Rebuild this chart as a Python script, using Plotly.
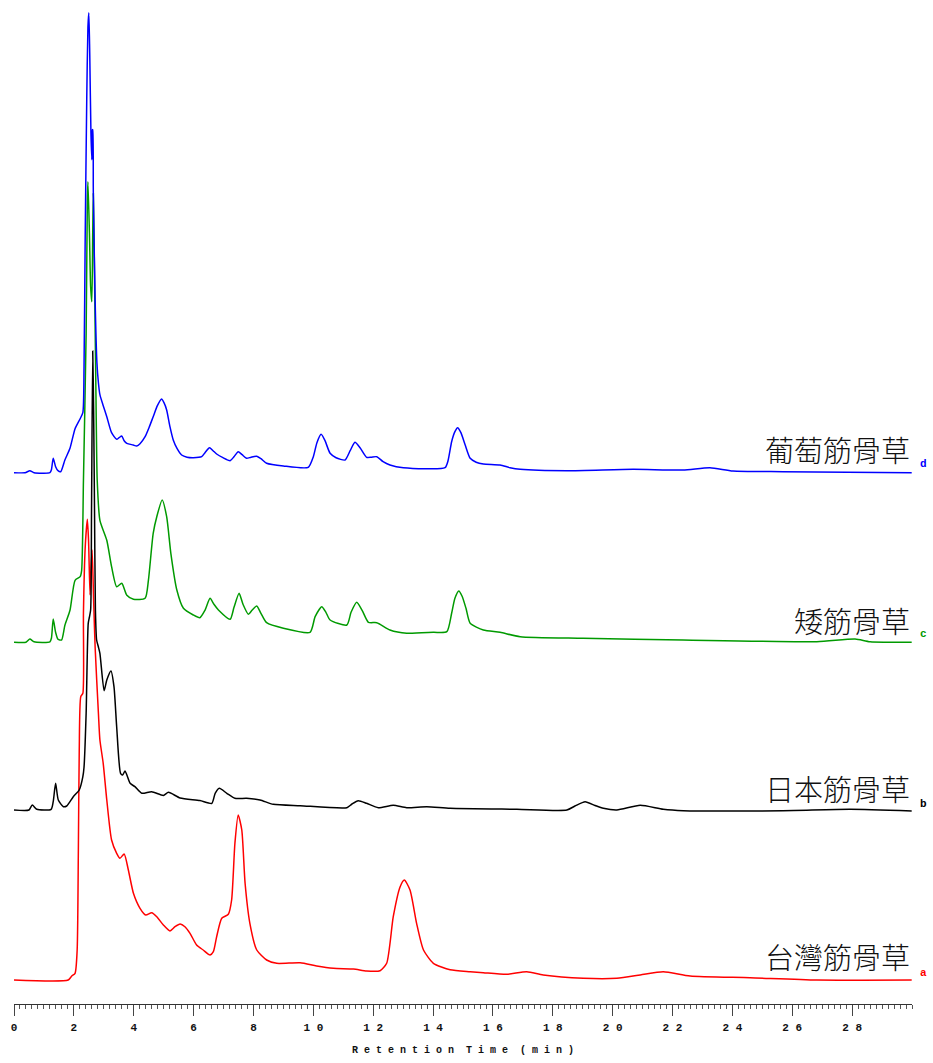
import plotly.graph_objects as go

# Retention time (min) and detector response for each sample
time_d = [0.0, 0.37, 0.53, 0.67, 1.20, 1.25, 1.31, 1.39, 1.47, 1.56, 1.70, 1.87, 2.04, 2.21, 2.30, 2.34,
          2.38, 2.43, 2.47, 2.50, 2.53, 2.57, 2.60, 2.62, 2.63, 2.65, 2.71, 2.77, 2.82, 2.87, 2.97, 3.10,
          3.26, 3.43, 3.51, 3.60, 3.68, 3.77, 3.98, 4.10, 4.21, 4.38, 4.51, 4.65, 4.79, 4.93, 5.01, 5.10,
          5.21, 5.32, 5.45, 5.60, 5.78, 5.99, 6.27, 6.38, 6.53, 6.65, 6.77, 6.98, 7.22, 7.35, 7.49, 7.62,
          7.77, 7.92, 8.11, 8.25, 8.44, 9.00, 9.83, 10.00, 10.12, 10.26, 10.39, 10.56, 10.76, 11.06, 11.23,
          11.39, 11.56, 11.78, 11.93, 12.12, 12.33, 12.56, 13.01, 14.40, 14.50, 14.62, 14.73, 14.82, 14.93,
          15.07, 15.24, 15.44, 15.68, 16.24, 16.57, 16.91, 18.47, 20.68, 22.35, 23.25, 24.02, 25.69, 29.99]
signal_d = [0, 0, 2, 0, 0, 3, 14.4, 6, 2, 1, 12.7, 24.4, 44, 54, 60, 106,
            240, 373, 446, 460, 420, 340, 313, 343, 343, 280, 173, 110, 90, 78, 68, 56,
            40, 33.4, 35, 36.7, 32, 29.4, 27.7, 26.7, 29, 36, 45, 56, 67, 73.7, 70, 62.7,
            46, 32.7, 24, 17.7, 15.5, 15, 16, 20, 25, 22, 18.7, 15, 12, 16, 21, 18,
            14.4, 15.5, 16.4, 14, 9.4, 6.7, 5.4, 16, 30, 38.4, 32, 19.4, 15, 12.7, 22,
            30.4, 25, 15.4, 15.5, 16, 11, 7.7, 5, 5, 12, 31, 41, 45, 40,
            28, 14.4, 10.5, 8.7, 7.7, 5, 3.4, 2, 3.4, 2.7, 5, 1.7, 1, 0]

time_c = [0.0, 0.40, 0.53, 0.67, 1.20, 1.25, 1.31, 1.39, 1.47, 1.59, 1.70, 1.87, 2.04, 2.21, 2.26, 2.32,
          2.41, 2.45, 2.47, 2.52, 2.56, 2.60, 2.63, 2.65, 2.70, 2.74, 2.78, 2.87, 3.10, 3.26, 3.43, 3.60,
          3.77, 3.99, 4.38, 4.49, 4.65, 4.77, 4.95, 5.10, 5.24, 5.44, 5.66, 5.99, 6.21, 6.38, 6.55, 6.68,
          6.83, 7.22, 7.35, 7.52, 7.65, 7.83, 7.95, 8.11, 8.25, 8.44, 9.00, 9.89, 10.06, 10.28, 10.42,
          10.56, 11.12, 11.26, 11.45, 11.63, 11.84, 12.12, 12.56, 13.12, 14.01, 14.46, 14.62, 14.73, 14.86,
          14.97, 15.10, 15.24, 15.68, 16.24, 16.91, 19.01, 22.35, 26.82, 28.10, 28.60, 29.99]
signal_c = [0, 0, 3.3, 0.5, 0.5, 4, 23.3, 10, 3, 2.3, 17, 32, 62, 65.6, 72, 162,
            309, 442, 460.6, 409, 355.6, 340.6, 409, 449, 342, 242, 162, 122, 102, 75.6, 55.6, 59,
            47, 43, 44, 62, 109, 125.6, 142.3, 125.6, 89, 52.3, 34, 27.3, 24.6, 32, 44, 38,
            32.3, 23, 35, 49, 38, 28, 32, 36.3, 29, 19.6, 14, 10, 25.6, 35.6, 30,
            22.3, 17.3, 30, 40, 32, 20, 19.6, 12.3, 9, 10, 10.6, 29, 44, 51.3,
            46, 34, 19, 12.3, 10, 5.6, 4, 2.3, 0.6, 3.3, 0.6, 0]

time_b = [0.0, 0.50, 0.61, 0.76, 1.24, 1.31, 1.39, 1.48, 1.65, 1.76, 1.98, 2.18, 2.30, 2.34, 2.41, 2.48,
          2.52, 2.56, 2.59, 2.63, 2.66, 2.69, 2.72, 2.76, 2.82, 2.87, 3.01, 3.10, 3.24, 3.34, 3.43, 3.56,
          3.63, 3.71, 3.88, 4.04, 4.27, 4.60, 4.99, 5.16, 5.55, 6.21, 6.61, 6.72, 6.86, 7.11, 7.38, 7.77,
          8.22, 8.66, 9.56, 11.12, 11.29, 11.50, 11.78, 12.17, 12.67, 13.12, 13.79, 14.57, 16.80, 18.47,
          18.74, 19.08, 19.41, 19.69, 20.14, 20.92, 21.69, 22.36, 25.69, 27.93, 29.99]
signal_b = [0, 0, 5, 0.7, 0.7, 8.3, 26.7, 10, 3.3, 4, 13.3, 20, 33.3, 43, 96.7, 186.7,
            193, 200, 300, 459, 400, 300, 200, 170, 163, 156.7, 119.3, 130, 139, 123.3, 83.3, 36.7,
            35, 39, 26.7, 23.3, 16.7, 18.3, 14.5, 17.7, 12, 9.5, 6.7, 16.7, 21.7, 16.7, 11.7, 11.7,
            10, 5.7, 4.3, 2.3, 6, 9.3, 6.7, 2.3, 4.7, 2.3, 3.3, 1.7, 0.7, 0,
            4, 8.3, 4.5, 1.7, 0, 4.7, 0.7, -0.7, -0.7, 0.7, -1]

time_a = [0.0, 1.81, 1.93, 2.04, 2.11, 2.15, 2.18, 2.23, 2.30, 2.32, 2.38, 2.45, 2.49, 2.54, 2.57, 2.61,
          2.66, 2.71, 2.82, 2.87, 2.98, 3.10, 3.26, 3.43, 3.54, 3.68, 3.82, 3.99, 4.21, 4.40, 4.60, 4.77,
          4.99, 5.21, 5.38, 5.55, 5.71, 5.88, 6.10, 6.32, 6.55, 6.66, 6.77, 6.94, 7.16, 7.27, 7.38, 7.49,
          7.61, 7.72, 7.88, 8.11, 8.44, 8.78, 9.56, 10.11, 10.67, 11.34, 11.78, 12.23, 12.45, 12.67, 12.90,
          13.04, 13.23, 13.45, 13.68, 14.01, 14.57, 15.24, 15.68, 16.46, 17.13, 17.68, 19.02, 20.14, 20.92,
          21.69, 22.59, 24.59, 26.82, 29.99]
signal_a = [0, 0, 4, 6.7, 30, 130, 230, 283.3, 286.7, 366.7, 433.3, 460.7, 440, 385, 410, 430,
            380, 333, 266.7, 240, 216.7, 180, 140, 126.7, 121.7, 126, 110, 86.7, 71.7, 65, 67.3, 63.3,
            55, 49, 53.3, 56, 53.3, 46.7, 35, 30, 25, 28.3, 43.3, 61.7, 65.7, 80, 136.7, 165,
            150, 96.7, 56.7, 30, 20, 16.7, 17.3, 14, 11.7, 11, 9, 9.3, 16.7, 63.3, 93.3,
            100, 90, 56.7, 30, 16.7, 10.3, 8.3, 7.3, 5.7, 8.3, 5, 1.7, 1.7, 5,
            8.3, 4, 2.3, 0, 0]

sample_names = ["台灣筋骨草", "日本筋骨草", "矮筋骨草", "葡萄筋骨草"]
sample_tags = ["a", "b", "c", "d"]
tick_values = list(range(0, 30, 2))

# Stacking of the chromatograms
traces = [(time_a, signal_a), (time_b, signal_b), (time_c, signal_c), (time_d, signal_d)]
offsets = [24, 194, 361.7, 531.3]
colors = ["#ff0000", "#000000", "#009a00", "#0000ff"]
name_dy = [24, 22, 22, 24]
tag_dy = [7, 6, 8, 9]

fig = go.Figure()
annotations = []
for (t, s), off, col, name, tag, ndy, tdy in zip(traces, offsets, colors, sample_names,
                                                 sample_tags, name_dy, tag_dy):
    fig.add_trace(go.Scatter(
        x=t, y=[v + off for v in s], mode="lines",
        line=dict(color=col, width=1.5, shape="spline", smoothing=0.6),
        name=name, showlegend=False,
    ))
    annotations.append(dict(
        x=30.0, y=off + ndy, xref="x", yref="y", text=name, showarrow=False,
        xanchor="right", yanchor="middle",
        font=dict(family="Noto Sans CJK TC", size=29, color="#111111", weight=300),
    ))
    annotations.append(dict(
        x=30.0, xshift=11, y=off + tdy, xref="x", yref="y", text=tag, showarrow=False,
        xanchor="center", yanchor="middle",
        font=dict(family="Liberation Mono", size=11, color=col, weight="bold"),
    ))

fig.update_layout(
    width=933, height=1063,
    margin=dict(l=14, r=21, t=0, b=59),
    paper_bgcolor="white", plot_bgcolor="white",
    annotations=annotations,
)

spaced = lambda s: "\u00a0".join(s)
fig.update_xaxes(
    range=[0, 30], showgrid=False, zeroline=False,
    showline=True, linecolor="#333333", linewidth=1,
    ticks="outside", ticklen=11, tickwidth=1, tickcolor="#444444",
    tickvals=tick_values, ticktext=[spaced(str(v)) for v in tick_values],
    tickfont=dict(family="Liberation Mono", size=11, color="#111111", weight="bold"),
    ticklabelstandoff=2,
    minor=dict(dtick=0.2, ticks="outside", ticklen=4, tickwidth=1, tickcolor="#555555", showgrid=False),
    title=dict(text="\u00a0\u00a0".join(spaced(w) for w in ["Retention", "Time", "(min)"]),
               font=dict(family="Liberation Mono", size=10, color="#111111", weight="bold"),
               standoff=12),
)
fig.update_yaxes(range=[0, 1004], visible=False, showgrid=False, zeroline=False)

fig.write_html("out.html")
